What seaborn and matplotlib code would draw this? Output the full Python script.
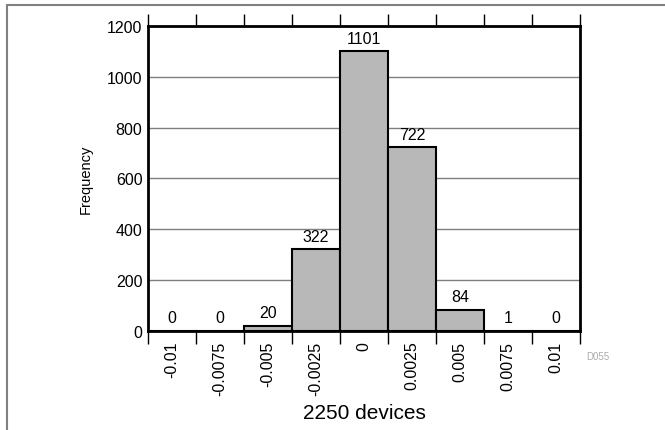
import matplotlib
matplotlib.use("Agg")
import matplotlib.pyplot as plt
import seaborn as sns
import pandas as pd
import numpy as np

# bin centres and counts
bins = ["-0.01", "-0.0075", "-0.005", "-0.0025", "0", "0.0025", "0.005", "0.0075", "0.01"]
counts = [0, 0, 20, 322, 1101, 722, 84, 1, 0]
y_ticks = [0, 200, 400, 600, 800, 1000, 1200]

df = pd.DataFrame({"bin": bins, "count": counts})

sns.set_theme(style="white")
plt.rcParams["font.family"] = ["Liberation Sans", "DejaVu Sans"]
plt.rcParams["text.color"] = "black"
plt.rcParams["axes.labelcolor"] = "black"
plt.rcParams["xtick.color"] = "black"
plt.rcParams["ytick.color"] = "black"

fig = plt.figure(figsize=(6.65, 4.31), dpi=100)
ax = fig.add_axes([0.2226, 0.2297, 0.6496, 0.7077])

sns.barplot(data=df, x="bin", y="count", color="#b8b8b8", width=1.0,
            edgecolor="black", linewidth=1.5, saturation=1, ax=ax)

ax.set_xlim(-0.5, len(bins) - 0.5)
ax.set_ylim(0, 1200)
ax.set_yticks(y_ticks)
ax.yaxis.grid(True, color="#7f7f7f", linewidth=1)
ax.set_axisbelow(True)

# labels at bin centres, tick marks at bin edges (top and bottom)
ax.set_xticks(range(len(bins)))
ax.set_xticklabels(bins, rotation=90)
ax.set_xticks(np.arange(-0.5, len(bins)), minor=True)
ax.tick_params(axis="x", which="major", length=0, pad=7, labelsize=11.5)
ax.tick_params(axis="x", which="minor", length=9, width=1, color="black",
               direction="out", top=True, bottom=True)
ax.tick_params(axis="y", length=0, labelsize=11.5, pad=4)

for s in ax.spines.values():
    s.set_color("black")
    s.set_linewidth(2)

ax.bar_label(ax.containers[0], labels=[str(c) for c in counts], padding=4, fontsize=11.5)

ax.set_xlabel("2250 devices", fontsize=15, labelpad=6)
ax.set_ylabel("Frequency", fontsize=10.5, labelpad=10)

fig.text(0.882, 0.165, "D055", fontsize=7, color="#aaaaaa", ha="left")

# page frame lines along the top and left edges
fig.add_artist(plt.Line2D([0.011, 1], [0.986, 0.986], color="#808080", linewidth=1.5))
fig.add_artist(plt.Line2D([0.011, 0.011], [0, 0.986], color="#808080", linewidth=1.5))

fig.savefig("out.png", dpi=100)
